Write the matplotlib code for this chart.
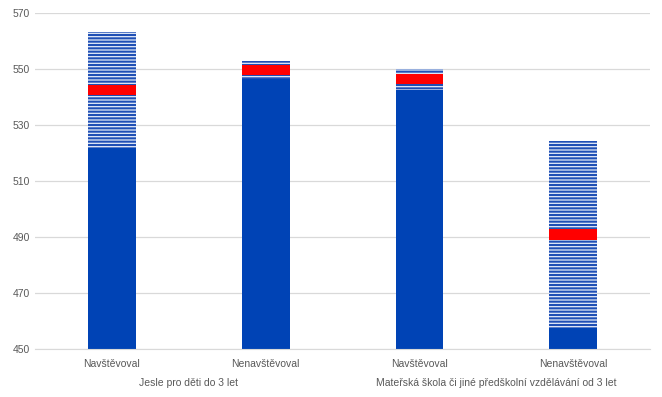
import matplotlib.pyplot as plt
from matplotlib.transforms import blended_transform_factory

plt.rcParams['font.family'] = ['Liberation Sans', 'DejaVu Sans']
plt.rcParams['hatch.linewidth'] = 1.5

# kategorie a skupiny
categories = ['Navštěvoval', 'Nenavštěvoval', 'Navštěvoval', 'Nenavštěvoval']
groups = ['Jesle pro děti do 3 let', 'Mateřská škola či jiné předškolní vzdělávání od 3 let']

# dolní mez, průměr, horní mez intervalu
lower = [521.9, 546.4, 542.7, 457.6]
mean = [542.5, 549.6, 546.3, 490.9]
upper = [563.1, 552.9, 550.0, 524.4]

red_half = 1.8
bar_width = 0.31
x = range(len(categories))

fig, ax = plt.subplots(figsize=(6.62, 3.97), dpi=100)
fig.subplots_adjust(left=0.053, right=0.982, top=0.967, bottom=0.121)

# plná část
ax.bar(x, lower, width=bar_width, color='#0043b5', zorder=2)
# šrafovaná část pod průměrem
ax.bar(x, [m - red_half - l for m, l in zip(mean, lower)], bottom=lower, width=bar_width,
       color='#e4ebf8', edgecolor='#1f4fb5', hatch='-----', linewidth=0, zorder=2)
# červený průměr
ax.bar(x, [2 * red_half] * len(mean), bottom=[m - red_half for m in mean], width=bar_width,
       color='#ff0000', linewidth=0, zorder=3)
# šrafovaná část nad průměrem
ax.bar(x, [u - m - red_half for u, m in zip(upper, mean)], bottom=[m + red_half for m in mean],
       width=bar_width, color='#e4ebf8', edgecolor='#1f4fb5', hatch='-----', linewidth=0, zorder=2)

ax.set_ylim(450, 570)
ax.set_xlim(-0.5, 3.5)
ax.set_yticks(range(450, 571, 20))
ax.yaxis.grid(True, color='#d9d9d9', linewidth=0.9)
ax.set_axisbelow(True)
for s in ['top', 'right', 'left']:
    ax.spines[s].set_visible(False)
ax.spines['bottom'].set_color('#d9d9d9')
ax.tick_params(length=0, labelsize=7.5, labelcolor='#595959')
ax.tick_params(axis='x', pad=7)
ax.set_xticks(list(x))
ax.set_xticklabels(categories)

trans = blended_transform_factory(ax.transData, ax.transAxes)
for i, g in enumerate(groups):
    ax.text(2 * i + 0.5, -0.085, g, transform=trans, ha='center', va='top',
            fontsize=7.5, color='#595959')

fig.savefig('out.png', dpi=100)
